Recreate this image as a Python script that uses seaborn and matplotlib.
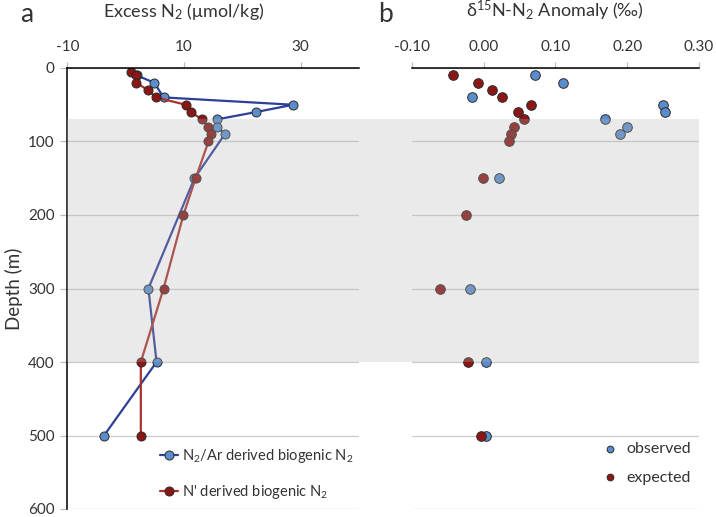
import matplotlib
matplotlib.use("Agg")
import matplotlib.pyplot as plt
import matplotlib.transforms as mtransforms
from matplotlib.patches import Rectangle
import seaborn as sns
import pandas as pd

# Excess N2 profiles (umol/kg) against depth (m)
nar_depth = [10, 20, 40, 50, 60, 70, 80, 90, 150, 300, 400, 500]
nar_excess = [1.9, 4.9, 6.5, 28.7, 22.3, 15.6, 15.7, 17.0, 11.8, 3.9, 5.3, -3.7]
nstar_depth = [5, 10, 20, 30, 40, 50, 60, 70, 80, 90, 100, 150, 200, 300, 400, 500]
nstar_excess = [1.0, 1.7, 1.8, 3.8, 5.2, 10.3, 11.2, 13.1, 14.2, 14.6, 14.2, 12.0, 9.9, 6.5, 2.6, 2.6]

# d15N-N2 anomaly (permil) against depth (m)
obs_depth = [10, 20, 40, 50, 60, 70, 80, 90, 150, 300, 400, 500]
obs_anom = [0.072, 0.111, -0.016, 0.250, 0.252, 0.169, 0.200, 0.190, 0.021, -0.019, 0.003, 0.004]
exp_depth = [10, 20, 30, 40, 50, 60, 70, 80, 90, 100, 150, 200, 300, 400, 500]
exp_anom = [-0.042, -0.007, 0.012, 0.026, 0.066, 0.048, 0.057, 0.042, 0.038, 0.035,
            -0.001, -0.024, -0.061, -0.021, -0.004]

a_ticks = [-10, 10, 30]
b_ticks = [-0.10, 0.00, 0.10, 0.20, 0.30]
depth_ticks = [0, 100, 200, 300, 400, 500, 600]
band = (70, 400)

sns.set_style("white")
plt.rcParams["font.family"] = ["Lato", "DejaVu Sans"]
plt.rcParams["axes.unicode_minus"] = False
plt.rcParams["mathtext.fontset"] = "custom"
plt.rcParams["mathtext.rm"] = "Lato"
plt.rcParams["mathtext.it"] = "Lato:italic"

BLUE_FILL, BLUE_LINE = "#5B8CCB", "#2E3F98"
RED_FILL, RED_LINE = "#8C1616", "#A8322D"
TXT = "#333333"

fig = plt.figure(figsize=(7.16, 5.17), dpi=100)
W, H = 716, 517
ax_a = fig.add_axes([67.3 / W, 1 - 509 / H, (359 - 67.3) / W, (509 - 68) / H])
ax_b = fig.add_axes([411.7 / W, 1 - 509 / H, (699 - 411.7) / W, (509 - 68) / H])

nar = pd.DataFrame({"excess": nar_excess, "depth": nar_depth})
nst = pd.DataFrame({"excess": nstar_excess, "depth": nstar_depth})
mk = dict(marker="o", markersize=6.5, markeredgecolor="#2a2a2a", markeredgewidth=0.7)

sns.lineplot(data=nar, x="excess", y="depth", sort=False, estimator=None, ax=ax_a,
             color=BLUE_LINE, lw=1.6, markerfacecolor=BLUE_FILL,
             label=r"N$_2$/Ar derived biogenic N$_2$", **mk)
sns.lineplot(data=nst, x="excess", y="depth", sort=False, estimator=None, ax=ax_a,
             color=RED_LINE, lw=1.6, markerfacecolor=RED_FILL,
             label=r"N' derived biogenic N$_2$", **mk)

obs = pd.DataFrame({"anom": obs_anom, "depth": obs_depth})
exp = pd.DataFrame({"anom": exp_anom, "depth": exp_depth})
sns.scatterplot(data=obs, x="anom", y="depth", ax=ax_b, color=BLUE_FILL, s=48,
                edgecolor="#2a2a2a", linewidth=0.7, label="observed", zorder=3)
sns.scatterplot(data=exp, x="anom", y="depth", ax=ax_b, color=RED_FILL, s=48,
                edgecolor="#2a2a2a", linewidth=0.7, label="expected", zorder=3)

for ax in (ax_a, ax_b):
    ax.set_ylim(600, 0)
    ax.set_yticks(depth_ticks)
    ax.xaxis.tick_top()
    ax.xaxis.set_label_position("top")
    ax.grid(axis="y", color="#CCCCCC", lw=0.9)
    ax.grid(axis="x", visible=False)
    ax.set_axisbelow(True)
    for s in ("right", "bottom"):
        ax.spines[s].set_visible(False)
    ax.spines["top"].set_color("black")
    ax.spines["top"].set_linewidth(1.1)
    ax.tick_params(axis="x", which="both", direction="out", length=4, width=0.9,
                   color="#BBBBBB", labelsize=11, labelcolor=TXT, pad=6)

ax_a.set_xlim(-10, 40)
ax_a.set_xticks(a_ticks)
ax_a.set_xticklabels([str(t) for t in a_ticks])
ax_a.spines["left"].set_color("black")
ax_a.spines["left"].set_linewidth(1.1)
ax_a.tick_params(axis="y", direction="out", length=5, width=0.9, color="#BBBBBB",
                 labelsize=11, labelcolor=TXT, pad=4, left=True)
ax_a.set_xlabel(r"Excess N$_2$ (μmol/kg)", fontsize=13, color=TXT)
ax_a.xaxis.set_label_coords(0.40, 1.115)
ax_a.set_ylabel("Depth (m)", fontsize=13.5, color=TXT, labelpad=4)

ax_b.set_xlim(-0.10, 0.30)
ax_b.set_xticks(b_ticks)
ax_b.set_xticklabels([f"{t:.2f}" for t in b_ticks])
ax_b.spines["left"].set_visible(False)
ax_b.tick_params(axis="y", left=False, labelleft=False)
ax_b.set_ylabel("")
ax_b.set_xlabel(r"δ$^{15}$N-N$_2$ Anomaly (‰)", fontsize=13, color=TXT)
ax_b.xaxis.set_label_coords(0.5, 1.115)

# shaded depth band spanning both panels, drawn over the data
trans = mtransforms.blended_transform_factory(fig.transFigure, ax_a.transData)
fig.add_artist(Rectangle((67.3 / W, band[0]), (699 - 67.3) / W, band[1] - band[0],
                         transform=trans, facecolor=(0.71, 0.71, 0.71), alpha=0.27,
                         edgecolor="none", zorder=5))

leg_a = ax_a.legend(loc="lower right", bbox_to_anchor=(1.015, -0.005), frameon=False,
                    fontsize=10.5, labelspacing=1.25, handlelength=1.2,
                    handletextpad=0.25, borderpad=0.2)
for t in leg_a.get_texts():
    t.set_color(TXT)

leg_b = ax_b.legend(loc="lower right", bbox_to_anchor=(1.01, 0.03), frameon=False,
                    fontsize=11.5, labelspacing=0.9, handletextpad=0.0,
                    markerscale=0.7, borderpad=0.2)
for t in leg_b.get_texts():
    t.set_color(TXT)

fig.text(20 / W, 1 - 15 / H, "a", fontsize=19, color=TXT, va="center", ha="left")
fig.text(378 / W, 1 - 15 / H, "b", fontsize=19, color=TXT, va="center", ha="left")

fig.savefig("out.png", dpi=100)
